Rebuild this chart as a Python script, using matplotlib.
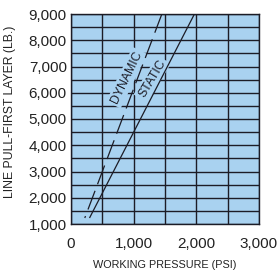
import matplotlib
matplotlib.use("Agg")
import matplotlib.pyplot as plt

# ========== DATA ==========
static_psi = [300, 1970]
static_lb = [1250, 9000]
dynamic_psi = [220, 1450]
dynamic_lb = [1230, 9000]

x_ticks = [0, 1000, 2000, 3000]
x_tick_labels = ["0", "1,000", "2,000", "3,000"]
y_ticks = [1000, 2000, 3000, 4000, 5000, 6000, 7000, 8000, 9000]
y_tick_labels = ["1,000", "2,000", "3,000", "4,000", "5,000",
                 "6,000", "7,000", "8,000", "9,000"]
x_grid = [0, 500, 1000, 1500, 2000, 2500, 3000]
y_grid = [1000, 1500, 2000, 2500, 3000, 3500, 4000, 4500, 5000,
          5500, 6000, 6500, 7000, 7500, 8000, 8500, 9000]

# ========== STYLE ==========
plt.rcParams['font.family'] = ['Liberation Sans', 'DejaVu Sans']
BG = "#a9d2f0"
INK = "#1c1c26"

fig = plt.figure(figsize=(2.8, 2.75), dpi=100)
ax = fig.add_axes([71 / 280, 1 - 224 / 275, 188 / 280, 210 / 275])
ax.set_facecolor(BG)

# grid
for gx in x_grid:
    ax.axvline(gx, color=INK, lw=1.0, zorder=1)
for gy in y_grid:
    ax.axhline(gy, color=INK, lw=1.0, zorder=1)

# curves (dynamic drawn top-down so the dash pattern starts at the top)
ax.plot(static_psi, static_lb, color=INK, lw=0.9, zorder=4)
ax.plot(dynamic_psi[::-1], dynamic_lb[::-1], color=INK, lw=0.9, zorder=4,
        linestyle=(0, (16, 5.6)))

# labels along curves
box = dict(facecolor=BG, edgecolor="none", pad=1.5)
ax.text(888, 6574, "DYNAMIC", rotation=64, ha="center", va="center",
        fontsize=8.8, color=INK, bbox=box, zorder=3)
ax.text(1297, 6524, "STATIC", rotation=59, ha="center", va="center",
        fontsize=8.8, color=INK, bbox=box, zorder=3)

ax.set_xlim(0, 3000)
ax.set_ylim(1000, 9000)
ax.set_xticks(x_ticks)
ax.set_xticklabels(x_tick_labels)
ax.set_yticks(y_ticks)
ax.set_yticklabels(y_tick_labels)
ax.tick_params(axis="both", length=0, labelsize=11, colors="#222222")
ax.tick_params(axis="x", pad=9)
ax.tick_params(axis="y", pad=3)

for s in ax.spines.values():
    s.set_color(INK)
    s.set_linewidth(1.0)

ax.set_xlabel("WORKING PRESSURE (PSI)", fontsize=7.8, color="#222222")
ax.set_ylabel("LINE PULL-FIRST LAYER (LB.)", fontsize=8.8, color="#222222")
ax.xaxis.set_label_coords(0.5, -0.171)
ax.yaxis.set_label_coords(-0.295, 0.535)

fig.savefig("out.png", dpi=100, facecolor="white")
